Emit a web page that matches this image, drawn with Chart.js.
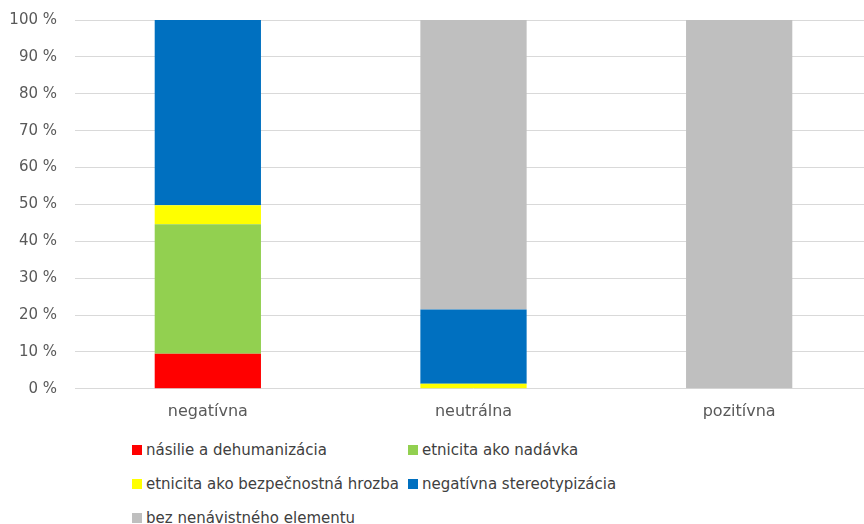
<!DOCTYPE html>
<html>
<head>
<meta charset="utf-8">
<script src="https://cdn.jsdelivr.net/npm/chart.js@4"></script>
<style>
  html, body { margin: 0; padding: 0; background: #fff; overflow: hidden; }
  #wrap { position: relative; width: 864px; height: 524px; overflow: hidden; }
  #box { position: absolute; left: 0; top: -7px; width: 872px; height: 433px; }
  #legend {
    position: absolute; left: 132px; top: 438px;
    display: grid; grid-template-columns: 276px 300px; row-gap: 10px;
    font-family: "DejaVu Sans", sans-serif; font-size: 15px; color: #404040;
  }
  #legend .item { display: flex; align-items: center; height: 24px; white-space: nowrap; }
  #legend .sw { width: 10px; height: 10px; margin-right: 4px; }
</style>
</head>
<body>
<div id="wrap">
  <div id="box"><canvas id="chart"></canvas></div>
  <div id="legend"></div>
</div>
<script>
// categories and series (% shares)
const categories = ['negatívna', 'neutrálna', 'pozitívna'];
const seriesNames = [
  'násilie a dehumanizácia',
  'etnicita ako nadávka',
  'etnicita ako bezpečnostná hrozba',
  'negatívna stereotypizácia',
  'bez nenávistného elementu'
];
const violence = [9.5, 0, 0];
const slur = [35.1, 0, 0];
const threat = [5.2, 1.4, 0];
const stereotype = [50.2, 20.1, 0];
const noHate = [0, 78.5, 100];
const yTicks = [0, 10, 20, 30, 40, 50, 60, 70, 80, 90, 100];

const colors = ['#ff0000', '#92d050', '#ffff00', '#0070c0', '#bfbfbf'];
const values = [violence, slur, threat, stereotype, noHate];

const datasets = seriesNames.map((name, i) => ({
  label: name,
  data: values[i],
  backgroundColor: colors[i],
  borderWidth: 0,
  categoryPercentage: 1,
  barPercentage: 0.4
}));

const fontFamily = '"DejaVu Sans", sans-serif';

new Chart(document.getElementById('chart'), {
  type: 'bar',
  data: { labels: categories, datasets: datasets },
  options: {
    responsive: true,
    maintainAspectRatio: false,
    animation: false,
    layout: { padding: { top: 3, left: 0, right: 0, bottom: 0 } },
    plugins: { legend: { display: false }, tooltip: { enabled: false } },
    scales: {
      x: {
        stacked: true,
        grid: { display: false },
        border: { display: false },
        ticks: { color: '#595959', font: { family: fontFamily, size: 16 }, padding: 5 }
      },
      y: {
        stacked: true,
        min: 0,
        max: 100,
        afterBuildTicks: (axis) => { axis.ticks = yTicks.map(v => ({ value: v })); },
        afterFit: (axis) => { axis.width = 75; },
        grid: { color: '#d9d9d9', lineWidth: 1, tickLength: 0 },
        border: { display: false },
        ticks: {
          color: '#595959',
          font: { family: fontFamily, size: 15 },
          padding: 18,
          callback: (v) => v + ' %'
        }
      }
    }
  }
});

// legend in two columns, built from the same series
const legend = document.getElementById('legend');
seriesNames.forEach((name, i) => {
  const item = document.createElement('div');
  item.className = 'item';
  const sw = document.createElement('span');
  sw.className = 'sw';
  sw.style.background = colors[i];
  const txt = document.createElement('span');
  txt.textContent = name;
  item.appendChild(sw);
  item.appendChild(txt);
  legend.appendChild(item);
});
</script>
</body>
</html>
